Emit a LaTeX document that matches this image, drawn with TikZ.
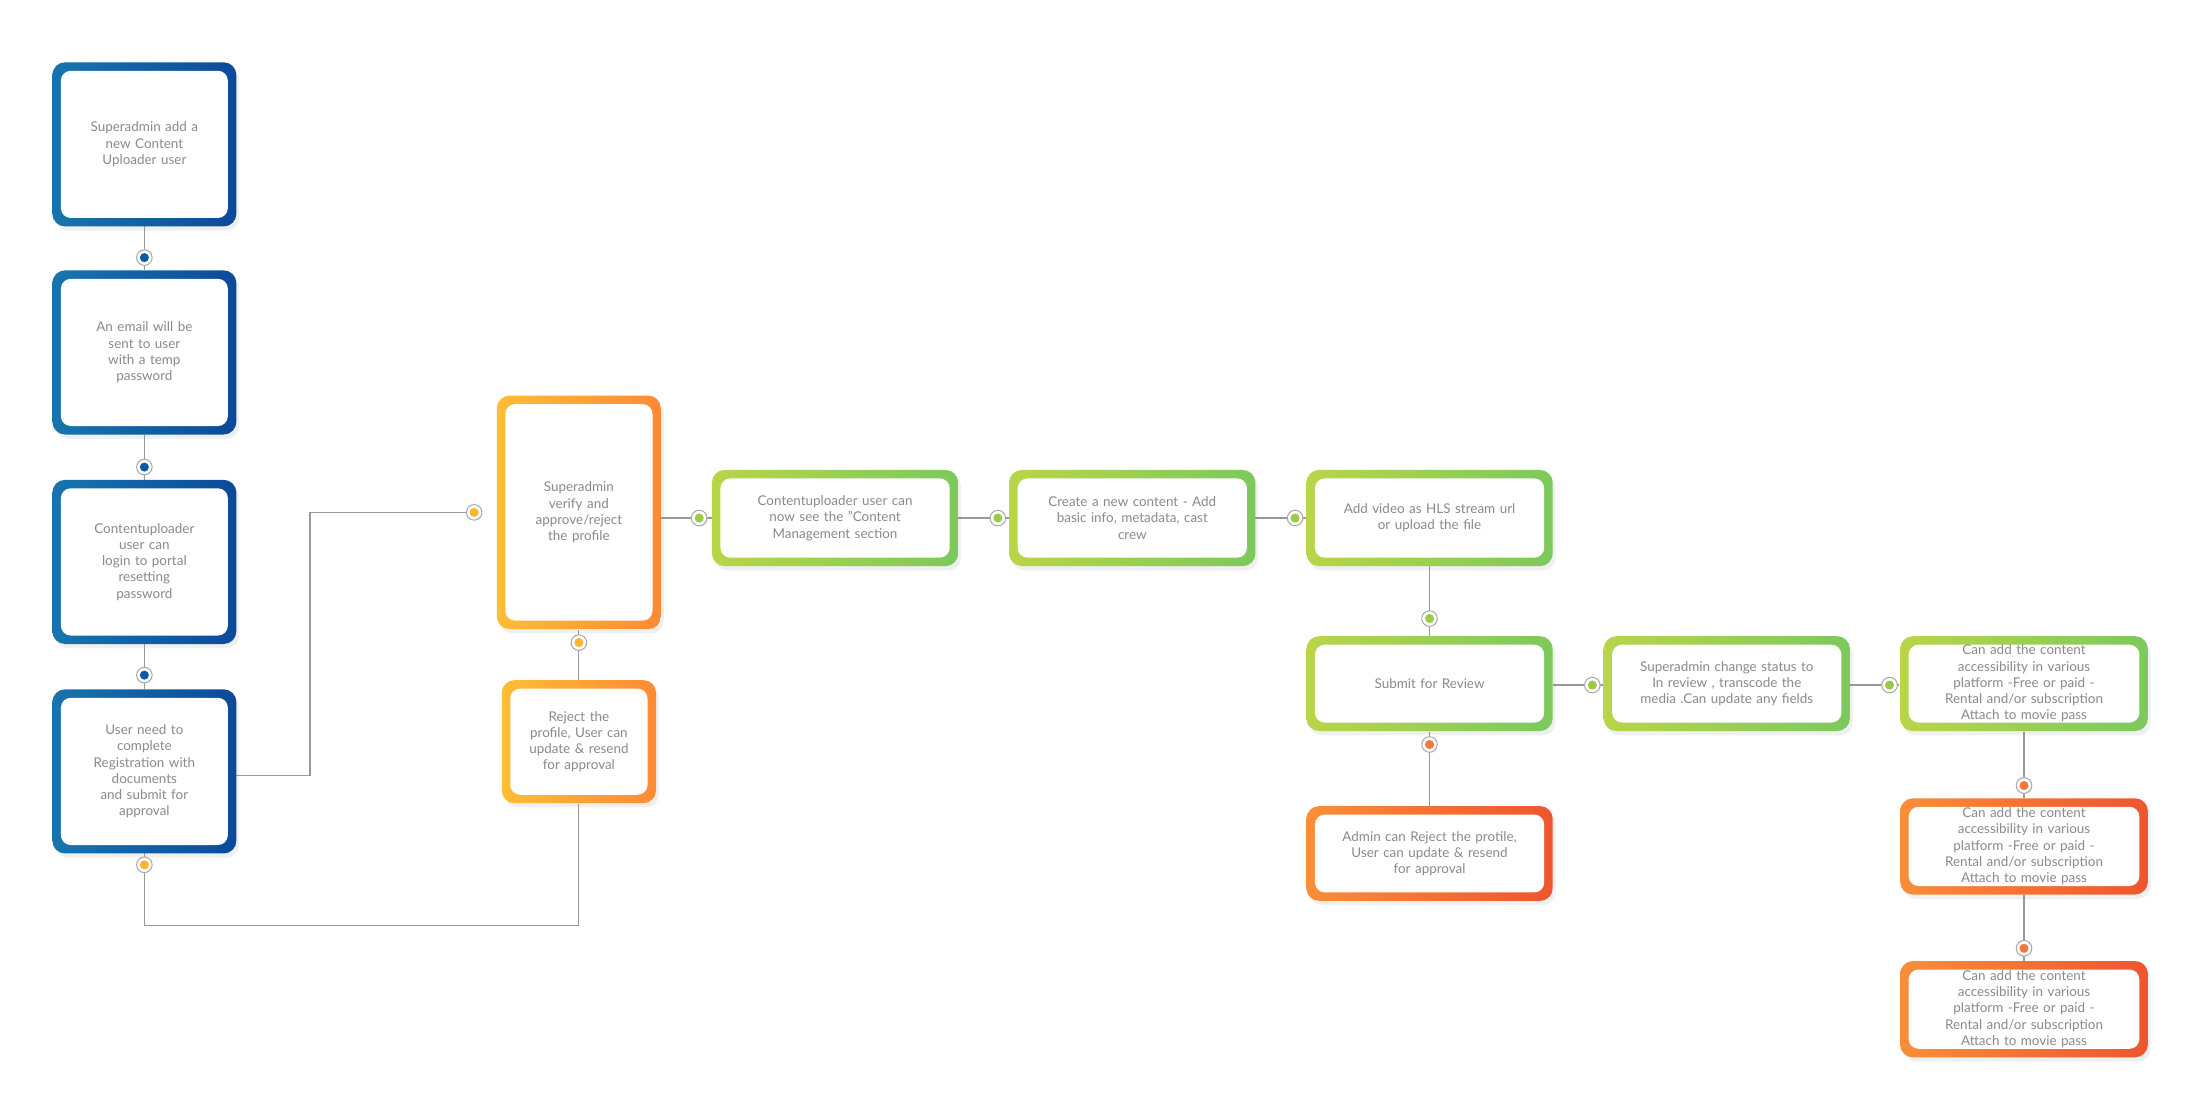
\documentclass[tikz,border=0pt]{standalone}
\usepackage{fontspec}
\setmainfont{Lato}
\usetikzlibrary{shadows}
\definecolor{txt}{HTML}{8A8A8A}
\definecolor{bluA}{HTML}{1775AE}\definecolor{bluB}{HTML}{0B4A9A}
\definecolor{yelA}{HTML}{FFBD35}\definecolor{yelB}{HTML}{FF8A35}
\definecolor{grnA}{HTML}{B9D548}\definecolor{grnB}{HTML}{7CC95C}
\definecolor{orgA}{HTML}{F98E38}\definecolor{orgB}{HTML}{EE5530}
\definecolor{dotB}{HTML}{0B5AA6}\definecolor{dotY}{HTML}{FDB52E}
\definecolor{dotG}{HTML}{9ACB44}\definecolor{dotO}{HTML}{F3773A}
\tikzset{
  frame/.style={rounded corners=9pt, draw=none, drop shadow={opacity=0.12,shadow xshift=2pt,shadow yshift=-3pt}},
  inner/.style={rounded corners=7pt, fill=white, text=txt, align=center, inner sep=0pt,
     font=\fontsize{9.5}{11.5}\selectfont},
  wire/.style={draw=gray!80, line width=0.8pt},
}
% name, x, y, w, h, colA, colB, text
\newcommand\mybox[8]{%
  \node[frame, left color=#6, right color=#7, minimum width=#4pt, minimum height=#5pt] (#1) at (#2,#3) {};
  \node[inner, minimum width=#4pt-12pt, minimum height=#5pt-12pt, text width=#4pt-16pt] (#1t) at (#1) {#8};}
\newcommand\mydot[4]{%
  \node[circle, fill=white, draw=gray!70, line width=0.7pt, minimum size=11pt, inner sep=0pt] (#1) at (#2,#3) {};
  \fill[#4] (#1) circle (3.2pt);}
\begin{document}
\begin{tikzpicture}[x=1pt,y=-1pt]
\useasboundingbox (0,0) rectangle (1560,788);
% wires first
\draw[wire] (102,160) -- (102,191) (102,307) -- (102,339) (102,455) -- (102,487);
\draw[wire] (167,548) -- (219,548) -- (219,362) -- (335,362);
\draw[wire] (409,445) -- (409,481);
\draw[wire] (409,568) -- (409,654) -- (102,654) -- (102,603);
\draw[wire] (467,366) -- (503,366) (677,366) -- (713,366) (887,366) -- (923,366);
\draw[wire] (1010,400) -- (1010,450) (1010,517) -- (1010,570);
\draw[wire] (1097,484) -- (1133,484) (1307,484) -- (1342,484);
\draw[wire] (1430,517) -- (1430,564) (1430,632) -- (1430,679);
\mybox{b1}{102}{102}{130}{116}{bluA}{bluB}{Superadmin add a\\ new Content\\ Uploader user}
\mybox{b2}{102}{249}{130}{116}{bluA}{bluB}{An email will be\\ sent to user\\ with a temp\\ password}
\mybox{b3}{102}{397}{130}{116}{bluA}{bluB}{Contentuploader\\ user can\\ login to portal\\ resetting\\ password}
\mybox{b4}{102}{545}{130}{116}{bluA}{bluB}{User need to\\ complete\\ Registration with\\ documents\\ and submit for\\ approval}
\mybox{sv}{409}{362}{116}{165}{yelA}{yelB}{Superadmin\\ verify and\\ approve/reject\\ the profile}
\mybox{rj}{409}{524}{109}{87}{yelA}{yelB}{Reject the\\ profile, User can\\ update \& resend\\ for approval}
\mybox{c1}{590}{366}{174}{68}{grnA}{grnB}{Contentuploader user can\\ now see the "Content\\ Management section}
\mybox{c2}{800}{366}{174}{68}{grnA}{grnB}{Create a new content - Add\\ basic info, metadata, cast\\ crew}
\mybox{c3}{1010}{366}{174}{68}{grnA}{grnB}{Add video as HLS stream url\\ or upload the file}
\mybox{sr}{1010}{483}{174}{67}{grnA}{grnB}{Submit for Review}
\mybox{ar}{1010}{603}{174}{67}{orgA}{orgB}{Admin can Reject the protile,\\ User can update \& resend\\ for approval}
\mybox{sc}{1220}{483}{174}{67}{grnA}{grnB}{Superadmin change status to\\ In review , transcode the\\ media .Can update any fields}
\mybox{g1}{1430}{483}{175}{67}{grnA}{grnB}{Can add the content\\ accessibility in various\\ platform -Free or paid -\\ Rental and/or subscription\\ Attach to movie pass}
\mybox{o1}{1430}{598}{175}{68}{orgA}{orgB}{Can add the content\\ accessibility in various\\ platform -Free or paid -\\ Rental and/or subscription\\ Attach to movie pass}
\mybox{o2}{1430}{713}{175}{68}{orgA}{orgB}{Can add the content\\ accessibility in various\\ platform -Free or paid -\\ Rental and/or subscription\\ Attach to movie pass}
\mydot{d1}{102}{182}{dotB}
\mydot{d2}{102}{330}{dotB}
\mydot{d3}{102}{477}{dotB}
\mydot{d4}{102}{611}{dotY}
\mydot{d5}{335}{362}{dotY}
\mydot{d6}{409}{454}{dotY}
\mydot{d7}{494}{366}{dotG}
\mydot{d8}{705}{366}{dotG}
\mydot{d9}{915}{366}{dotG}
\mydot{d10}{1010}{437}{dotG}
\mydot{d11}{1010}{526}{dotO}
\mydot{d12}{1125}{484}{dotG}
\mydot{d13}{1335}{484}{dotG}
\mydot{d14}{1430}{555}{dotO}
\mydot{d15}{1430}{670}{dotO}
\end{tikzpicture}
\end{document}
